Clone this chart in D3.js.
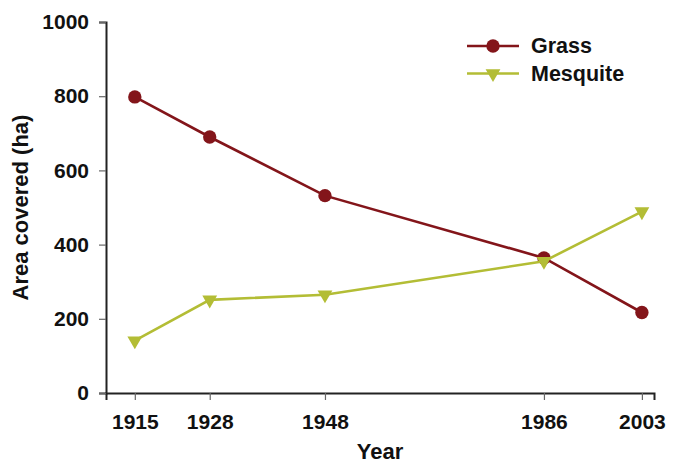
<!DOCTYPE html>
<html>
<head>
<meta charset="utf-8">
<script src="https://cdn.jsdelivr.net/npm/d3@7.9.0/dist/d3.min.js"></script>
<style>
  body { margin: 0; background: #fff; }
  svg text { font-family: "Liberation Sans", Arial, sans-serif; font-weight: bold; fill: #111; }
</style>
</head>
<body>
<svg id="chart" width="678" height="467"></svg>
<script>
const years = [1915, 1928, 1948, 1986, 2003];
const grass = [798, 690, 532, 364, 217];
const mesquite = [141, 251, 265, 355, 489];
const yTicks = [0, 200, 400, 600, 800, 1000];

const svg = d3.select('#chart');
const margin = { top: 22, right: 24, bottom: 74, left: 106 };
const width = +svg.attr('width');
const height = +svg.attr('height');
const innerWidth = width - margin.left - margin.right;
const innerHeight = height - margin.top - margin.bottom;

const chart = svg.append('g').attr('transform', `translate(${margin.left},${margin.top})`);

const x = d3.scaleLinear().domain([1910, 2005.1]).range([0, innerWidth]);
const y = d3.scaleLinear().domain([0, 1000]).range([innerHeight, 0]);

// axes
const xAxis = chart.append('g')
  .attr('transform', `translate(0,${innerHeight})`)
  .call(d3.axisBottom(x).tickValues(years).tickFormat(d3.format('d')).tickSize(7).tickPadding(14));
const yAxis = chart.append('g')
  .call(d3.axisLeft(y).tickValues(yTicks).tickFormat(d3.format('d')).tickSize(7).tickPadding(10));

[xAxis, yAxis].forEach(a => {
  a.select('.domain').attr('stroke', '#222').attr('stroke-width', 2);
  a.selectAll('.tick line').attr('stroke', '#666').attr('stroke-width', 1.2);
  a.selectAll('.tick text').attr('font-size', 21).attr('fill', '#111');
});

chart.append('text')
  .attr('x', innerWidth / 2)
  .attr('y', innerHeight + 66)
  .attr('text-anchor', 'middle')
  .attr('font-size', 22)
  .text('Year');

chart.append('text')
  .attr('transform', 'rotate(-90)')
  .attr('x', -innerHeight / 2)
  .attr('y', -78)
  .attr('text-anchor', 'middle')
  .attr('font-size', 22)
  .text('Area covered (ha)');

const series = [
  { name: 'Grass', values: grass, color: '#83151a', symbol: d3.symbolCircle, size: 140 },
  { name: 'Mesquite', values: mesquite, color: '#b3bd35', symbol: d3.symbolTriangle, size: 95 }
];

const line = d3.line().x((d, i) => x(years[i])).y(d => y(d));

series.forEach(s => {
  chart.append('path')
    .attr('d', line(s.values))
    .attr('fill', 'none')
    .attr('stroke', s.color)
    .attr('stroke-width', 2.6);
  chart.selectAll(null)
    .data(s.values)
    .join('path')
    .attr('d', d3.symbol().type(s.symbol).size(s.size))
    .attr('transform', (d, i) => `translate(${x(years[i])},${y(d)})` + (s.symbol === d3.symbolTriangle ? ' rotate(180)' : ''))
    .attr('fill', s.color);
});

// legend
const legend = svg.append('g').attr('transform', 'translate(467,46)');
series.forEach((s, i) => {
  const g = legend.append('g').attr('transform', `translate(0,${i * 27.5})`);
  g.append('line').attr('x1', 0).attr('x2', 52).attr('stroke', s.color).attr('stroke-width', 2.6);
  g.append('path')
    .attr('d', d3.symbol().type(s.symbol).size(s.size))
    .attr('transform', `translate(26,0)` + (s.symbol === d3.symbolTriangle ? ' rotate(180)' : ''))
    .attr('fill', s.color);
  g.append('text').attr('x', 64).attr('y', 7).attr('font-size', 21.5).text(s.name);
});
</script>
</body>
</html>
